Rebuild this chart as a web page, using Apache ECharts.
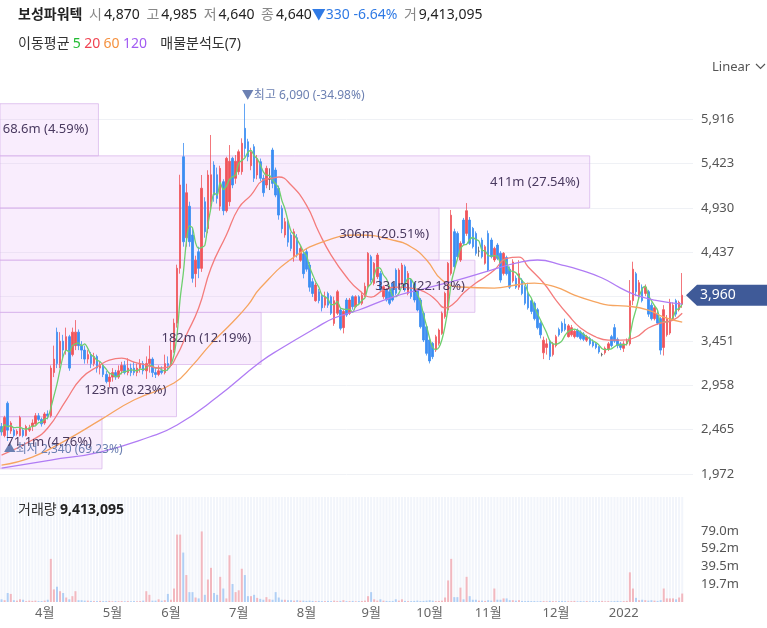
<!DOCTYPE html>
<html>
<head>
<meta charset="utf-8">
<title>보성파워텍</title>
<script src="https://cdn.jsdelivr.net/npm/echarts@6/dist/echarts.min.js"></script>
<style>
  html, body { margin: 0; padding: 0; background: #fff; }
  #chart { width: 767px; height: 628px; }
</style>
</head>
<body>
<div id="chart"></div>
<script>
const FONT = '"Noto Sans", "Noto Sans CJK KR", sans-serif';

// trading calendar (Mar 12 2021 .. Jan 28 2022)
const monthKeys = ['2021-03', '2021-04', '2021-05', '2021-06', '2021-07', '2021-08', '2021-09', '2021-10', '2021-11', '2021-12', '2022-01'];
const monthLabels = ['3월', '4월', '5월', '6월', '7월', '8월', '9월', '10월', '11월', '12월', '2022'];
const monthTradingDays = [14, 22, 19, 22, 22, 21, 19, 19, 22, 22, 20];
const padDays = 3;

// daily candles: [open, close, low, high]
const candles = [
  [2500,2440,2400,2540],[2400,2600,2380,2620],[2760,2460,2340,2780],[2450,2540,2420,2560],[2460,2400,2380,2480],
  [2420,2450,2400,2470],[2400,2600,2390,2620],[2460,2400,2380,2480],[2400,2500,2390,2520],[2460,2480,2440,2520],
  [2500,2540,2450,2580],[2530,2620,2520,2650],[2620,2580,2560,2650],[2580,2530,2500,2600],[2540,2640,2520,2660],
  [2640,2620,2580,2680],[2620,3150,2600,3180],[3100,3250,3050,3400],[3550,3200,3150,3600],[3200,3450,3150,3550],
  [3450,3350,3250,3520],[3350,3500,3300,3600],[3500,3150,3120,3520],[3300,3550,3280,3600],[3400,3550,3350,3684],
  [3550,3400,3350,3580],[3400,3350,3250,3450],[3350,3250,3200,3400],[3250,3300,3200,3350],[3300,3200,3150,3330],
  [3200,3280,3170,3320],[3280,3150,3100,3300],[3150,3180,3080,3220],[3180,3080,3050,3200],[3080,3000,2980,3120],
  [3000,3050,2940,3100],[3050,3100,3000,3150],[3100,3050,3020,3130],[3050,3120,3030,3180],[3120,3180,3080,3220],
  [3180,3100,3080,3230],[3100,3150,3070,3260],[3150,3100,3060,3200],[3150,3100,3070,3220],[3100,3150,3060,3200],
  [3150,3200,3100,3250],[3200,3120,3080,3230],[3120,3200,3030,3280],[3200,3250,3100,3400],[3250,3100,3050,3270],
  [3100,3080,3040,3150],[3080,3120,3060,3180],[3120,3100,3080,3170],[3100,3200,3080,3300],[3200,3180,3120,3280],
  [3180,3350,3160,3450],[3350,3650,3320,3700],[3650,4260,3600,4300],[4260,5186,4200,5300],[5500,4555,4500,5653],
  [4600,5100,4500,5200],[4950,4555,4500,5000],[4630,4148,4100,4700],[4200,4350,4050,4400],[4444,4259,4150,4500],
  [4259,5150,4220,5297],[5000,4667,4600,5050],[4700,5297,4650,5350],[5000,5300,4900,5742],[5408,5074,5000,5450],
  [5300,5037,4980,5380],[4950,5371,4900,5400],[5223,4900,4850,5250],[4900,5482,4880,5500],[5000,5450,4950,5630],
  [5482,5186,5150,5500],[5260,5450,5200,5519],[5334,5556,5300,5580],[5334,5650,5300,5705],[5816,5593,5500,6090],
  [5667,5500,5450,5700],[5400,5556,5350,5600],[5612,5260,5220,5640],[5297,5482,5250,5520],[5445,5260,5230,5480],
  [5260,5100,5056,5300],[5186,5371,5150,5400],[5250,5250,5130,5371],[5575,5204,5150,5600],[5352,5074,5050,5380],
  [5149,4852,4800,5180],[4926,4700,4650,4960],[4630,4778,4600,4820],[4778,4550,4500,4800],[4630,4481,4450,4660],
  [4400,4667,4333,4700],[4600,4407,4380,4640],[4350,4480,4333,4520],[4420,4200,4148,4450],[4444,4250,4222,4480],
  [4296,4050,4000,4330],[4111,3980,3940,4150],[3900,4074,3888,4100],[4000,3900,3870,4030],[3950,3820,3780,3980],
  [3850,3944,3820,4000],[3980,3850,3820,4000],[3944,3759,3740,3960],[3647,3900,3620,3944],[3760,4000,3740,4020],
  [3796,3592,3570,3820],[3600,3780,3536,3800],[3907,3740,3720,3930],[3759,3907,3740,3930],[3944,3833,3800,3960],
  [3833,3944,3820,3960],[3944,3870,3850,3960],[3870,3960,3850,4000],[3960,4060,3940,4100],[4055,4426,4030,4440],
  [4389,4129,4100,4410],[4092,4315,4070,4330],[4166,4407,4140,4430],[4203,4018,4000,4230],[3944,4055,3920,4070],
  [4018,3907,3890,4040],[4000,3870,3850,4030],[4092,3907,3890,4110],[4240,3981,3960,4260],[4055,4240,4030,4260],
  [4092,4296,4070,4320],[4278,4018,4000,4300],[3981,4203,3960,4230],[4129,3944,3920,4150],[4092,3907,3880,4110],
  [4018,3796,3780,4040],[3907,3610,3590,3930],[3759,3462,3440,3780],[3610,3314,3290,3630],[3462,3230,3202,3480],
  [3425,3277,3250,3440],[3351,3499,3330,3520],[3425,3573,3400,3590],[3536,3759,3520,3780],[3722,3981,3700,4000],
  [3796,4315,3780,4330],[4203,4850,4180,4908],[4667,4278,4250,4700],[4648,4389,4370,4670],[4352,4537,4330,4560],
  [4796,4537,4520,4820],[4648,4900,4620,4985],[4796,4537,4520,4830],[4704,4500,4480,4720],[4648,4426,4400,4670],
  [4450,4450,4389,4500],[4574,4389,4370,4600],[4315,4500,4300,4520],[4648,4240,4220,4680],[4574,4389,4370,4600],
  [4352,4481,4330,4500],[4518,4370,4350,4540],[4426,4129,4100,4450],[4203,4426,4180,4440],[4380,4200,4180,4400],
  [4250,4050,4030,4280],[4120,4330,4100,4360],[4150,4050,4030,4180],[4050,4200,4020,4350],[4130,3980,3960,4150],
  [4050,3870,3850,4070],[3980,3820,3800,4100],[3900,3780,3750,3920],[3870,3700,3680,3890],[3800,3600,3580,3820],
  [3650,3520,3480,3670],[3320,3460,3250,3500],[3380,3420,3300,3480],[3450,3280,3240,3470],[3300,3420,3280,3440],
  [3400,3500,3380,3520],[3580,3520,3500,3600],[3650,3560,3540,3670],[3640,3580,3560,3700],[3500,3620,3490,3640],
  [3520,3600,3500,3630],[3500,3560,3480,3580],[3570,3500,3490,3590],[3550,3480,3460,3570],[3530,3470,3450,3550],
  [3460,3500,3440,3520],[3480,3420,3400,3500],[3440,3400,3380,3470],[3420,3380,3360,3430],[3390,3330,3310,3400],
  [3300,3300,3280,3320],[3320,3370,3300,3390],[3360,3420,3340,3440],[3500,3400,3380,3520],[3600,3450,3430,3640],
  [3470,3400,3370,3490],[3420,3380,3350,3440],[3370,3420,3330,3450],[3420,3450,3400,3480],[3420,3900,3400,4129],
  [3900,4250,3850,4333],[4200,4000,3950,4220],[3950,4100,3930,4130],[4050,3900,3880,4080],[3980,4050,3950,4080],
  [4000,3750,3720,4020],[3850,3700,3680,3880],[3700,3820,3680,3850],[3760,3650,3630,3790],[3700,3350,3300,3720],
  [3380,3800,3290,3850],[3520,3700,3500,3740],[3540,3880,3520,3920],[3700,3850,3680,3880],[3900,3750,3720,3920],
  [3800,3880,3780,3900],[3860,3960,3820,4207]
];

// daily volume, millions of shares
const volumes = [
  3, 2, 10, 9, 2, 1.5, 3, 2.5, 1, 1.5, 1.2, 1.5, 1, 1, 1.5, 2.5,
  48, 14, 17, 12, 10, 5, 3, 6.5, 12, 2,
  2, 1.5, 1.5, 1.2, 1, 1, 1.2, 1, 1, 1.2, 0.8, 1, 0.8, 1, 0.8, 1, 0.8, 1, 0.8, 1, 1.5,
  12, 8, 1.5, 1.5, 3, 1.5, 2, 9, 2.5, 15,
  75, 75, 55, 30, 11, 11, 5, 4, 78.5, 8, 25, 38, 10, 8, 28, 15, 4, 52, 20, 11, 13, 37, 30,
  6.5, 6.5, 8, 4.6, 3.5, 2.5, 5.4, 3, 2.5, 11, 5, 2.5, 2.5, 2, 2, 1.5, 2, 1.5, 1.5, 1.2, 1.5, 1.2, 1, 1.2, 1,
  1, 1.2, 1, 1.5, 1, 1.2, 2, 1, 1, 1.2, 0.8, 1, 1.2, 1.5,
  6.5, 11, 3, 1.5, 3, 1.5, 1.2, 1, 1.2, 3, 1.5, 3, 1.2, 1, 1, 1.2, 1.5, 1, 1.2, 1.5, 2, 1.5, 1, 1.2, 1.5,
  5, 24, 48, 5.4, 5.4, 16, 3, 28, 6.5, 2.5, 2.5, 1.5, 1.5, 1.2, 2, 1.5, 15, 2.5, 2.5, 4, 4, 2,
  2, 1.5, 2, 1.2, 1, 1.2, 1, 1, 0.8, 1, 1, 0.8, 1.2, 1, 0.8, 1, 1.2, 1, 0.8, 1,
  1.2, 0.8, 1, 0.8, 1, 0.8, 1, 0.8, 1, 1.2, 0.8, 1, 0.8, 1, 1.2, 0.8, 1, 1.2,
  33, 15, 4.6, 2, 2.5, 2, 1.5, 2, 1.5, 1.2, 2, 15, 4, 4, 4, 3, 5, 9.4
];

// moving averages: [day index, value]
const ma20Points = [
  [0,2183],[10,2350],[15,2484],[21,2795],[26,3040],[32,3184],[35,3240],[39,3262],[43,3217],[47,3184],
  [51,3151],[54,3162],[57,3295],[60,3518],[64,3818],[68,4263],[73,4630],[77,4930],[81,5074],[85,5241],
  [88,5263],[90,5275],[94,5186],[99,4963],[103,4663],[107,4407],[112,4163],[116,4018],[120,3940],[124,4018],
  [129,4051],[133,4040],[138,3985],[141,3907],[144,3818],[147,3873],[150,3985],[154,4096],[157,4163],[160,4240],
  [164,4370],[168,4385],[171,4274],[176,4096],[180,3907],[184,3740],[188,3596],[193,3496],[197,3462],[201,3462],
  [206,3496],[210,3596],[214,3651],[218,3684],[221,3760]
];
const ma60Points = [
  [0,2072],[10,2161],[21,2350],[32,2572],[43,2795],[56,2984],[62,3180],[68,3420],[75,3660],[80,3850],
  [84,4040],[95,4385],[106,4574],[116,4630],[127,4574],[133,4496],[138,4352],[143,4129],[149,4052],[160,4040],
  [167,4074],[173,4096],[180,4051],[186,3962],[193,3885],[197,3851],[203,3840],[210,3796],[215,3718],[221,3662]
];
const ma120Points = [
  [0,2039],[16,2128],[32,2217],[48,2384],[57,2517],[70,2828],[84,3217],[91,3373],[102,3596],[108,3707],
  [116,3796],[127,3940],[138,4040],[148,4129],[159,4240],[167,4318],[174,4352],[182,4296],[188,4240],[195,4152],
  [201,4040],[206,3962],[212,3907],[221,3862]
];

// volume profile (매물분석도), bottom band first
const bandEdges = [2030, 2610, 3190, 3770, 4350, 4930, 5510, 6090];
const bandVolumes = [71.1, 123, 182, 331, 306, 411, 68.6];
const bandShares = [4.76, 8.23, 12.19, 22.18, 20.51, 27.54, 4.59];

const quote = { name: '보성파워텍', open: 4870, high: 4985, low: 4640, close: 4640, change: -330, changePct: -6.64, volume: 9413095 };
const maPeriods = [5, 20, 60, 120];

const UP = '#f0545a', DOWN = '#3b8ef3', DOJI = '#555555';
const MA_COLORS = ['#6fcf6f', '#f47c7c', '#f6a560', '#b07cf4'];
const LEGEND_COLORS = ['#22bb33', '#f04452', '#f5913e', '#a25cf2'];

const fmt = n => Math.round(n).toLocaleString('en-US');

// categories and month-start labels
const categories = [];
const monthStart = new Map();
monthKeys.forEach((key, m) => {
  if (m > 0) monthStart.set(categories.length, monthLabels[m]);
  for (let d = 1; d <= monthTradingDays[m]; d++) categories.push(key + '-' + d);
});
for (let p = 0; p < padDays; p++) categories.push('');

const closes = candles.map(c => c[1]);
const ma5 = closes.map((_, i) => {
  const win = closes.slice(Math.max(0, i - 4), i + 1);
  return Math.round(win.reduce((a, b) => a + b, 0) / win.length);
});

let hiIdx = 0, loIdx = 0;
candles.forEach((c, i) => {
  if (c[3] > candles[hiIdx][3]) hiIdx = i;
  if (c[2] < candles[loIdx][2]) loIdx = i;
});
const lastClose = closes[closes.length - 1];
const hiVal = candles[hiIdx][3], loVal = candles[loIdx][2];
const hiPct = ((lastClose / hiVal - 1) * 100).toFixed(2);
const loPct = ((lastClose / loVal - 1) * 100).toFixed(2);

const candleItems = candles.map(c => c[0] === c[1]
  ? { value: c, itemStyle: { color: DOJI, color0: DOJI, borderColor: DOJI, borderColor0: DOJI } }
  : c);
const volumeItems = volumes.map((v, i) => ({
  value: v,
  itemStyle: { color: candles[i][1] >= candles[i][0] ? 'rgba(242,140,148,0.58)' : 'rgba(115,172,240,0.52)' }
}));
const bandData = bandVolumes.map((v, i) => [v, bandEdges[i], bandEdges[i + 1], bandShares[i]]);

const maLine = (name, data, color, smooth) => ({
  name, type: 'line', xAxisIndex: 0, yAxisIndex: 0, data, smooth,
  symbol: 'none', showSymbol: false, z: 4, silent: true,
  lineStyle: { color, width: 1.3 }
});

const headerText =
  `{n|${quote.name}}  {k|시}{v|${fmt(quote.open)}}  {k|고}{v|${fmt(quote.high)}}  {k|저}{v|${fmt(quote.low)}}  ` +
  `{k|종}{v|${fmt(quote.close)}}{d|▼${fmt(Math.abs(quote.change))} ${quote.changePct.toFixed(2)}%}  {k|거}{v|${fmt(quote.volume)}}`;
const maText = `{t|이동평균} ` + maPeriods.map((p, i) => `{m${i}|${p}}`).join(' ') + `    {t|매물분석도(${bandVolumes.length})}`;
const maRich = { t: { fontSize: 14, fill: '#333', fontFamily: FONT } };
LEGEND_COLORS.forEach((c, i) => { maRich['m' + i] = { fontSize: 14, fill: c, fontFamily: FONT }; });

const chart = echarts.init(document.getElementById('chart'));

const option = {
  animation: false,
  textStyle: { fontFamily: FONT },
  grid: [
    { left: 0, right: 74, top: 75, height: 443.4 },
    { left: 0, right: 74, top: 497, height: 105 }
  ],
  xAxis: [
    { type: 'category', gridIndex: 0, data: categories, axisLine: { show: false }, axisTick: { show: false },
      axisLabel: { show: false }, splitLine: { show: false } },
    { type: 'value', gridIndex: 0, min: 0, max: 483, show: false },
    { type: 'category', gridIndex: 1, data: categories, axisLine: { show: false }, axisTick: { show: false },
      splitLine: { show: false },
      axisLabel: { interval: i => monthStart.has(i), formatter: (v, i) => monthStart.get(i) || '',
        color: '#666', fontSize: 13, margin: 5, hideOverlap: false } }
  ],
  yAxis: [
    { type: 'value', gridIndex: 0, position: 'right', min: 1479, max: 6409, interval: 493, scale: false,
      axisLine: { show: false }, axisTick: { show: false },
      axisLabel: { showMinLabel: false, showMaxLabel: false, color: '#555', fontSize: 13, margin: 8, formatter: v => fmt(v) },
      splitLine: { show: true, showMinLine: false, showMaxLine: false, lineStyle: { color: '#eff1f5' } } },
    { type: 'value', gridIndex: 1, position: 'right', min: 0, max: 116.8, interval: 19.75,
      axisLine: { show: false }, axisTick: { show: false }, splitLine: { show: false },
      axisLabel: { color: '#555', fontSize: 13, margin: 8,
        formatter: v => (v <= 0 || v > 80) ? '' : (Math.floor(v * 10 + 1e-6) / 10).toFixed(1) + 'm' } }
  ],
  series: [
    {
      name: 'bands', type: 'custom', xAxisIndex: 1, yAxisIndex: 0, data: bandData, z: 1, silent: true, clip: false,
      encode: { x: 0, y: [1, 2] },
      renderItem: (params, api) => {
        const lo = api.coord([0, api.value(1)]);
        const hi = api.coord([api.value(0), api.value(2)]);
        return {
          type: 'rect',
          shape: { x: lo[0], y: hi[1], width: hi[0] - lo[0], height: lo[1] - hi[1] },
          style: { fill: 'rgba(232,186,246,0.26)', stroke: 'rgba(214,176,234,0.7)', lineWidth: 1 }
        };
      }
    },
    {
      name: 'price', type: 'candlestick', xAxisIndex: 0, yAxisIndex: 0, data: candleItems, barWidth: 2, z: 3,
      itemStyle: { color: UP, color0: DOWN, borderColor: UP, borderColor0: DOWN, borderWidth: 0.8 },
      markPoint: {
        symbol: 'circle', symbolSize: 0, silent: true,
        label: { color: '#6c80b2', fontSize: 12, fontFamily: FONT, align: 'left' },
        data: [
          { coord: [hiIdx, hiVal], label: { formatter: `▼최고 ${fmt(hiVal)} (${hiPct}%)`, position: 'top', distance: 2, offset: [-3, 0] } },
          { coord: [loIdx, loVal], label: { formatter: `▲최저 ${fmt(loVal)} (${loPct}%)`, position: 'bottom', distance: 3, offset: [-4, 0] } }
        ]
      }
    },
    maLine('MA5', ma5, MA_COLORS[0], 0.3),
    maLine('MA20', ma20Points, MA_COLORS[1], true),
    maLine('MA60', ma60Points, MA_COLORS[2], true),
    maLine('MA120', ma120Points, MA_COLORS[3], true),
    {
      name: 'bandLabels', type: 'custom', xAxisIndex: 1, yAxisIndex: 0, data: bandData, z: 10, silent: true, clip: false,
      encode: { x: 0, y: [1, 2] },
      renderItem: (params, api) => {
        const lo = api.coord([0, api.value(1)]);
        const hi = api.coord([api.value(0), api.value(2)]);
        return {
          type: 'text',
          x: hi[0] - 10, y: (lo[1] + hi[1]) / 2,
          style: {
            text: `${api.value(0)}m (${api.value(3).toFixed(2)}%)`,
            fill: '#4a3a60', font: `13px ${FONT}`, align: 'right', verticalAlign: 'middle'
          }
        };
      }
    },
    {
      name: 'volume', type: 'bar', xAxisIndex: 2, yAxisIndex: 1, data: volumeItems, barWidth: 2,
      showBackground: true, backgroundStyle: { color: '#f2f5fb' }, silent: true
    }
  ],
  graphic: {
    elements: [
      { id: 'head', type: 'text', left: 18, top: 8, z: 100, silent: true,
        style: { text: headerText, rich: {
          n: { fontSize: 14, fontWeight: 'bold', fill: '#222', fontFamily: FONT },
          k: { fontSize: 14, fill: '#888', fontFamily: FONT, padding: [0, 2, 0, 0] },
          v: { fontSize: 14, fill: '#222', fontFamily: FONT },
          d: { fontSize: 14, fill: '#2f7ae5', fontFamily: FONT }
        } } },
      { id: 'ma', type: 'text', left: 18, top: 37, z: 100, silent: true, style: { text: maText, rich: maRich } },
      { id: 'linear', type: 'text', left: 712, top: 61, z: 100, silent: true,
        style: { text: 'Linear', fill: '#555', font: `13px ${FONT}` } },
      { id: 'chev', type: 'polyline', z: 100, silent: true, shape: { points: [[756, 64], [760.5, 68.5], [765, 64]] },
        style: { stroke: '#555', lineWidth: 1.2, fill: null } },
      { id: 'volTitle', type: 'text', left: 18, top: 503, z: 100, silent: true,
        style: { text: `{t|거래량} {b|${fmt(quote.volume)}}`, rich: {
          t: { fontSize: 14, fill: '#333', fontFamily: FONT },
          b: { fontSize: 14, fill: '#222', fontWeight: 'bold', fontFamily: FONT }
        } } }
    ]
  }
};

chart.setOption(option);

// current price tag on the right edge
const tagY = chart.convertToPixel({ yAxisIndex: 0 }, lastClose);
chart.setOption({
  graphic: {
    elements: [
      { id: 'tag', type: 'polygon', silent: true, z: 100,
        shape: { points: [[686, tagY], [697, tagY - 10.5], [767, tagY - 10.5], [767, tagY + 10.5], [697, tagY + 10.5]] },
        style: { fill: '#3f5a98' } },
      { id: 'tagText', type: 'text', silent: true, z: 101, x: 700, y: tagY,
        style: { text: fmt(lastClose), fill: '#fff', font: `14px ${FONT}`, verticalAlign: 'middle' } }
    ]
  }
});
</script>
</body>
</html>
